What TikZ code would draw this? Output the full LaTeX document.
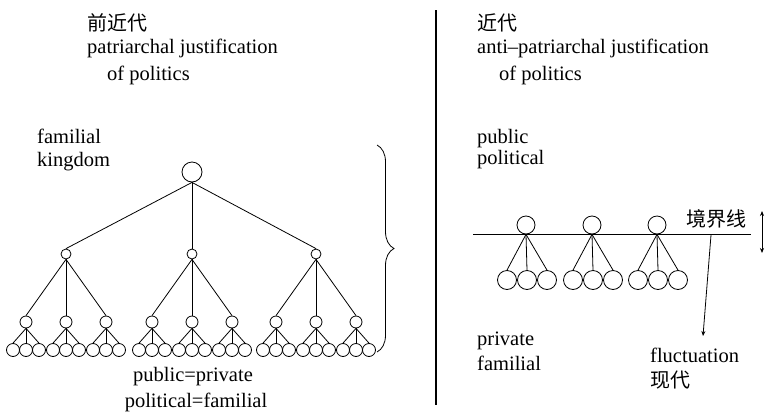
\documentclass[tikz,border=0pt]{standalone}
\usepackage{fontspec}
\setmainfont{Liberation Serif}
\newfontfamily\cjk{Noto Sans CJK SC}
\usetikzlibrary{decorations.pathreplacing, arrows.meta}

\begin{document}
\begin{tikzpicture}[x=1pt, y=-1pt,%
  txt/.style={anchor=base west, inner sep=0pt, font=\fontsize{20.5}{25}\selectfont},%
  cjktxt/.style={anchor=base west, inner sep=0pt, font=\cjk\fontsize{20}{25}\selectfont},%
  rootnode/.style={circle, draw, line width=0.8pt, inner sep=0pt, minimum size=20pt},%
  midnode/.style={circle, draw, line width=0.8pt, inner sep=0pt, minimum size=10pt},%
  subnode/.style={circle, draw, line width=0.8pt, inner sep=0pt, minimum size=12pt},%
  leafnode/.style={circle, draw, line width=0.8pt, inner sep=0pt, minimum size=13pt},%
  topnode/.style={circle, draw, line width=0.8pt, inner sep=0pt, minimum size=18pt},%
  lownode/.style={circle, draw, line width=0.8pt, inner sep=0pt, minimum size=19pt},%
  edge/.style={draw, line width=0.8pt},%
  arrow/.style={-{Stealth[length=5pt, width=4pt]}, line width=0.8pt}%
]
  \useasboundingbox (0,0) rectangle (766,413);

  % left half: pre-modern
  \node[cjktxt] (premodern) at (87,30) {前近代};
  \node[txt] (patri) at (87,53) {patriarchal justification};
  \node[txt] (ofpol) at (107,80) {of politics};
  \node[txt] (familial) at (37,143) {familial};
  \node[txt] (kingdom) at (37,166) {kingdom};

  \node[rootnode] (root) at (192,172) {};
  \foreach \i/\x in {1/66, 2/192, 3/316} {
    \node[midnode] (m\i) at (\x,254) {};
    \draw[edge] (root.south) -- (m\i.north);
    \foreach \j/\dx in {1/-40, 2/0, 3/40} {
      \node[subnode] (s\i\j) at (\x+\dx,322) {};
      \draw[edge] (m\i.south) -- (s\i\j.north);
      \foreach \k/\ddx in {1/-13, 2/0, 3/13} {
        \node[leafnode] (l\i\j\k) at (\x+\dx+\ddx,350) {};
        \draw[edge] (s\i\j.south) -- (l\i\j\k.north);
      }
    }
  }

  \node[txt, anchor=base] (equal1) at (193,381) {public=private};
  \node[txt, anchor=base] (equal2) at (196,407) {political=familial};

  \coordinate (bracetop) at (377,145);
  \coordinate (bracebot) at (377,352);
  \draw[line width=0.8pt, decorate, decoration={brace, amplitude=17pt, aspect=0.5}] (bracetop) -- (bracebot);

  % divider
  \coordinate (divtop) at (436,10);
  \coordinate (divbot) at (436,405);
  \draw[line width=1.3pt] (divtop) -- (divbot);

  % right half: modern
  \node[cjktxt] (modern) at (477,30) {近代};
  \node[txt] (antipatri) at (477,53) {anti--patriarchal justification};
  \node[txt] (ofpol2) at (499,80) {of politics};
  \node[txt] (public) at (477,143) {public};
  \node[txt] (political) at (477,164) {political};

  \coordinate (lineleft) at (473,234);
  \coordinate (lineright) at (751,234);
  \draw[edge] (lineleft) -- (lineright);

  \foreach \i/\x in {1/526, 2/592, 3/657} {
    \node[topnode] (t\i) at (\x,225) {};
    \foreach \j/\dx in {1/-20, 2/0, 3/20} {
      \node[lownode] (b\i\j) at (\x+\dx+1,280) {};
      \draw[edge] (t\i.south) -- (b\i\j.north);
    }
  }

  \node[cjktxt] (boundary) at (686,226) {境界线};
  \coordinate (shiftup) at (762,211);
  \coordinate (shiftdown) at (762,253);
  \draw[{Stealth[length=5pt, width=4pt]}-{Stealth[length=5pt, width=4pt]}, line width=0.8pt] (shiftup) -- (shiftdown);

  \node[txt] (private) at (477,345) {private};
  \node[txt] (familial2) at (477,370) {familial};

  \node[txt] (fluct) at (650,362) {fluctuation};
  \node[cjktxt] (contemp) at (650,387) {现代};
  \coordinate (dip) at (711,235);
  \coordinate (tip) at (703,336);
  \draw[arrow] (dip) -- (tip);
\end{tikzpicture}
\end{document}
